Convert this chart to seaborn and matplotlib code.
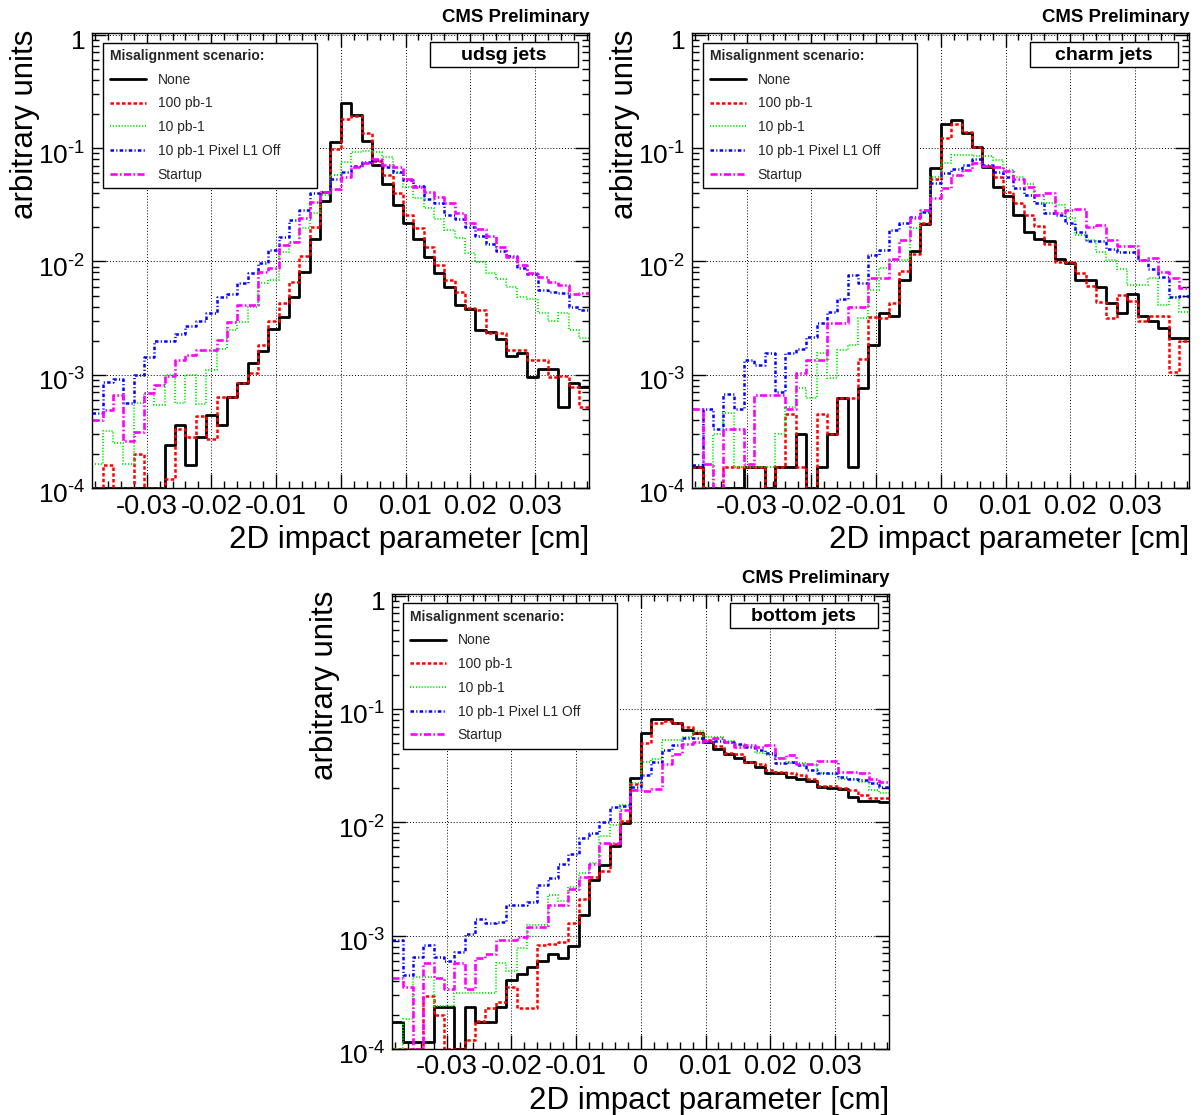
import numpy as np
import pandas as pd
import matplotlib
matplotlib.use("Agg")
import matplotlib.pyplot as plt
import matplotlib.transforms as mtransforms
import seaborn as sns
from matplotlib.ticker import FixedLocator, FixedFormatter, MultipleLocator, LogLocator, NullFormatter
from matplotlib.patches import Rectangle

# ---------------- data ----------------
BIN_EDGES = [round(k * 0.0016, 6) for k in range(-24, 25)]   # 48 bins, 0.0016 cm wide
BIN_CENTERS = [0.5 * (a + b) for a, b in zip(BIN_EDGES[:-1], BIN_EDGES[1:])]

SCENARIOS = ["None", "100 pb-1", "10 pb-1", "10 pb-1 Pixel L1 Off", "Startup"]
FLAVOURS = ["udsg jets", "charm jets", "bottom jets"]
X_TICKS = [-0.03, -0.02, -0.01, 0.0, 0.01, 0.02, 0.03]
X_TICK_LABELS = ["-0.03", "-0.02", "-0.01", "0", "0.01", "0.02", "0.03"]
Y_TICKS = [1e-4, 1e-3, 1e-2, 1e-1, 1.0]
Y_TICK_LABELS = [r"$10^{\text{-4}}$", r"$10^{\text{-3}}$", r"$10^{\text{-2}}$", r"$10^{\text{-1}}$", "1"]

# udsg jets
udsg_none = [0, 0, 0, 0, 0, 0, 0, 2.4e-4,
             3.6e-4, 1.6e-4, 2.8e-4, 4.4e-4, 3.6e-4, 6.4e-4, 8.5e-4, 1.26e-3,
             1.63e-3, 2.53e-3, 3.25e-3, 4.9e-3, 8.1e-3, 0.0159, 0.0343, 0.113,
             0.249, 0.196, 0.116, 0.0711, 0.0483, 0.0313, 0.0217, 0.0158,
             0.0110, 7.9e-3, 6.0e-3, 4.1e-3, 3.8e-3, 2.48e-3, 2.39e-3, 2.05e-3,
             1.46e-3, 1.56e-3, 9.6e-4, 1.13e-3, 1.13e-3, 5.2e-4, 8.4e-4, 7.8e-4]
udsg_100pb = [0, 1.6e-4, 0, 0, 2.0e-4, 0, 0, 1.2e-4,
              3.3e-4, 2.8e-4, 4.3e-4, 2.7e-4, 6.4e-4, 6.4e-4, 8.4e-4, 1.03e-3,
              1.83e-3, 3.0e-3, 4.3e-3, 6.6e-3, 0.0112, 0.020, 0.041, 0.098,
              0.18, 0.192, 0.137, 0.0776, 0.058, 0.040, 0.0255, 0.0196,
              0.0135, 9.4e-3, 6.9e-3, 5.4e-3, 3.85e-3, 3.72e-3, 2.34e-3, 2.32e-3,
              1.65e-3, 1.67e-3, 1.35e-3, 1.35e-3, 9.6e-4, 9.7e-4, 7.8e-4, 5.2e-4]
udsg_10pb = [1.64e-4, 3.2e-4, 2.5e-4, 1.64e-4, 5.6e-4, 6.9e-4, 5.4e-4, 1.0e-3,
             5.6e-4, 1.0e-3, 5.5e-4, 1.1e-3, 1.7e-3, 2.5e-3, 2.9e-3, 4.0e-3,
             6.4e-3, 6.9e-3, 0.0122, 0.0149, 0.0196, 0.0266, 0.0386, 0.058,
             0.076, 0.093, 0.095, 0.093, 0.083, 0.061, 0.0457, 0.036,
             0.0294, 0.0235, 0.0189, 0.016, 0.0118, 9.9e-3, 7.85e-3, 7.0e-3,
             6.0e-3, 4.9e-3, 4.7e-3, 3.5e-3, 3.0e-3, 3.5e-3, 2.5e-3, 2.1e-3]
udsg_10pb_nol1 = [4.6e-4, 8.6e-4, 9.1e-4, 5.6e-4, 1.0e-3, 1.44e-3, 1.98e-3, 1.98e-3,
                  2.3e-3, 2.7e-3, 3.0e-3, 3.5e-3, 4.9e-3, 5.2e-3, 6.5e-3, 7.85e-3,
                  9.6e-3, 0.0126, 0.0165, 0.0232, 0.0284, 0.040, 0.041, 0.054,
                  0.062, 0.0696, 0.076, 0.078, 0.068, 0.062, 0.0524, 0.0464,
                  0.0353, 0.033, 0.0257, 0.0235, 0.0203, 0.0168, 0.0143, 0.0124,
                  0.0112, 8.7e-3, 7.7e-3, 5.6e-3, 5.4e-3, 5.3e-3, 4.0e-3, 3.7e-3]
udsg_startup = [4.0e-4, 4.9e-4, 6.6e-4, 2.6e-4, 3.1e-4, 6.9e-4, 8.1e-4, 9.7e-4,
                1.35e-3, 1.49e-3, 1.67e-3, 1.67e-3, 2.02e-3, 2.93e-3, 4.1e-3, 4.1e-3,
                8.1e-3, 8.7e-3, 0.014, 0.0149, 0.024, 0.0337, 0.041, 0.044,
                0.0553, 0.068, 0.0745, 0.080, 0.0711, 0.068, 0.054, 0.0457,
                0.041, 0.0373, 0.033, 0.0266, 0.022, 0.0192, 0.0168, 0.0135,
                0.011, 9.3e-3, 7.85e-3, 7.3e-3, 6.6e-3, 6.2e-3, 5.2e-3, 5.3e-3]

# charm jets
charm_none = [1.54e-4, 0, 0, 0, 0, 1.54e-4, 1.54e-4, 0,
              1.54e-4, 1.54e-4, 3.0e-4, 0, 1.54e-4, 3.0e-4, 6.2e-4, 1.54e-4,
              7.6e-4, 1.83e-3, 3.5e-3, 3.3e-3, 6.9e-3, 0.0124, 0.0214, 0.0664,
              0.163, 0.177, 0.135, 0.103, 0.0687, 0.0457, 0.0381, 0.0257,
              0.0183, 0.0157, 0.0152, 0.0106, 9.6e-3, 6.9e-3, 6.8e-3, 6.0e-3,
              4.26e-3, 3.5e-3, 5.2e-3, 3.3e-3, 3.0e-3, 2.56e-3, 2.09e-3, 2.09e-3]
charm_100pb = [1.54e-4, 0, 0, 1.54e-4, 1.54e-4, 1.54e-4, 1.54e-4, 0,
               1.54e-4, 4.5e-4, 1.54e-4, 0, 4.5e-4, 3.0e-4, 6.2e-4, 6.2e-4,
               1.39e-3, 3.25e-3, 3.2e-3, 4.26e-3, 8.3e-3, 0.0116, 0.0217, 0.054,
               0.122, 0.164, 0.14, 0.102, 0.069, 0.056, 0.0413, 0.0326,
               0.0257, 0.0205, 0.0144, 9.95e-3, 9.95e-3, 7.85e-3, 6.07e-3, 4.4e-3,
               3.2e-3, 5.05e-3, 4.5e-3, 3.0e-3, 3.3e-3, 3.3e-3, 1.06e-3, 2.0e-3]
charm_10pb = [0, 0, 3.0e-4, 4.6e-4, 1.54e-4, 1.54e-4, 1.54e-4, 1.54e-4,
              3.0e-4, 5.2e-4, 7.6e-4, 6.2e-4, 1.54e-3, 9.3e-4, 1.67e-3, 1.83e-3,
              3.2e-3, 5.6e-3, 8.7e-3, 0.0103, 0.0103, 0.0196, 0.0275, 0.056,
              0.0735, 0.087, 0.087, 0.085, 0.085, 0.0787, 0.064, 0.056,
              0.0483, 0.0386, 0.033, 0.0315, 0.024, 0.0171, 0.0155, 0.0122,
              0.0103, 8.5e-3, 6.2e-3, 6.2e-3, 7.1e-3, 4.1e-3, 4.9e-3, 3.6e-3]
charm_10pb_nol1 = [1.6e-4, 5.0e-4, 3.35e-4, 6.8e-4, 5.0e-4, 1.35e-3, 1.22e-3, 1.54e-3,
                   7.1e-4, 1.54e-3, 1.7e-3, 2.16e-3, 2.84e-3, 3.6e-3, 4.7e-3, 7.6e-3,
                   6.4e-3, 0.0114, 0.0126, 0.0189, 0.022, 0.0249, 0.0275, 0.049,
                   0.06, 0.065, 0.071, 0.081, 0.071, 0.062, 0.056, 0.0442,
                   0.0386, 0.0326, 0.0266, 0.0257, 0.022, 0.0183, 0.0152, 0.0152,
                   0.013, 0.0122, 0.012, 0.0103, 8.5e-3, 7.3e-3, 4.9e-3, 5.0e-3]
charm_startup = [5.0e-4, 1.64e-4, 0, 3.35e-4, 3.35e-4, 1.64e-4, 6.6e-4, 6.6e-4,
                 6.6e-4, 5.0e-4, 1.03e-3, 1.35e-3, 1.35e-3, 2.84e-3, 2.84e-3, 4.0e-3,
                 4.0e-3, 7.1e-3, 7.1e-3, 0.0106, 0.0155, 0.024, 0.0284, 0.036,
                 0.0442, 0.058, 0.064, 0.0735, 0.069, 0.068, 0.063, 0.054,
                 0.0457, 0.0386, 0.0405, 0.0266, 0.0284, 0.029, 0.0203, 0.021,
                 0.0155, 0.0137, 0.0137, 0.0103, 0.0108, 8.1e-3, 7.1e-3, 5.8e-3]

# bottom jets
bottom_none = [1.73e-4, 1.15e-4, 1.15e-4, 1.15e-4, 2.35e-4, 2.35e-4, 0, 2.35e-4,
               1.73e-4, 1.73e-4, 2.35e-4, 4.04e-4, 4.6e-4, 5.3e-4, 5.9e-4, 6.9e-4,
               6.3e-4, 8.1e-4, 1.51e-3, 3.08e-3, 4.2e-3, 6.2e-3, 9.8e-3, 0.0244,
               0.0618, 0.081, 0.081, 0.0746, 0.0653, 0.0618, 0.0514, 0.044,
               0.040, 0.0366, 0.0343, 0.031, 0.0274, 0.027, 0.0253, 0.0239,
               0.023, 0.0203, 0.020, 0.0195, 0.0166, 0.0155, 0.0155, 0.0152]
bottom_100pb = [0, 0, 0, 2.9e-4, 2.0e-4, 0, 0, 1.2e-4,
                1.75e-4, 2.3e-4, 2.6e-4, 3.5e-4, 2.3e-4, 2.3e-4, 8.3e-4, 8.5e-4,
                8.7e-4, 1.28e-3, 2.1e-3, 3.3e-3, 3.7e-3, 6.4e-3, 0.0103, 0.0216,
                0.05, 0.075, 0.079, 0.0746, 0.0689, 0.061, 0.053, 0.047,
                0.0405, 0.040, 0.0343, 0.033, 0.0289, 0.028, 0.027, 0.026,
                0.0239, 0.0209, 0.0209, 0.020, 0.0193, 0.0175, 0.0163, 0.0163]
bottom_10pb = [0, 1.85e-4, 4.3e-4, 4.3e-4, 2.4e-4, 2.4e-4, 3.1e-4, 3.1e-4,
               3.1e-4, 3.1e-4, 5.7e-4, 4.9e-4, 7.7e-4, 1.24e-3, 1.24e-3, 2.28e-3,
               2.0e-3, 2.7e-3, 3.6e-3, 4.4e-3, 7.5e-3, 9.5e-3, 0.0142, 0.022,
               0.034, 0.036, 0.053, 0.053, 0.057, 0.064, 0.057, 0.057,
               0.052, 0.048, 0.0464, 0.0411, 0.0393, 0.0366, 0.0331, 0.0331,
               0.032, 0.0274, 0.0268, 0.0239, 0.0239, 0.0228, 0.0192, 0.0182]
bottom_10pb_nol1 = [9.1e-4, 4.5e-4, 6.5e-4, 8.2e-4, 6.5e-4, 5.9e-4, 7.2e-4, 1.04e-3,
                    1.39e-3, 1.28e-3, 1.32e-3, 1.86e-3, 1.86e-3, 1.99e-3, 2.79e-3, 3.19e-3,
                    4.3e-3, 5.2e-3, 7.2e-3, 8.0e-3, 0.0101, 0.0137, 0.014, 0.0206,
                    0.026, 0.0343, 0.0435, 0.048, 0.055, 0.055, 0.0514, 0.052,
                    0.0514, 0.049, 0.0464, 0.0435, 0.0405, 0.0336, 0.0343, 0.032,
                    0.0289, 0.0274, 0.027, 0.0253, 0.0239, 0.0236, 0.022, 0.0203]
bottom_startup = [4.2e-4, 3.5e-4, 0, 5.7e-4, 4.2e-4, 3.4e-4, 5.7e-4, 3.4e-4,
                  6.3e-4, 6.9e-4, 9.1e-4, 9.1e-4, 9.7e-4, 1.19e-3, 1.19e-3, 1.86e-3,
                  1.86e-3, 2.6e-3, 3.3e-3, 4.3e-3, 6.5e-3, 6.5e-3, 0.0128, 0.0192,
                  0.019, 0.0195, 0.033, 0.040, 0.049, 0.0514, 0.052, 0.055,
                  0.0514, 0.046, 0.048, 0.0464, 0.048, 0.037, 0.039, 0.033,
                  0.033, 0.035, 0.035, 0.028, 0.028, 0.0274, 0.024, 0.0225]

PANEL_DATA = [
    [udsg_none, udsg_100pb, udsg_10pb, udsg_10pb_nol1, udsg_startup],
    [charm_none, charm_100pb, charm_10pb, charm_10pb_nol1, charm_startup],
    [bottom_none, bottom_100pb, bottom_10pb, bottom_10pb_nol1, bottom_startup],
]

# ---------------- style ----------------
COLORS = ["#000000", "#ff0000", "#00ee00", "#0000ff", "#ff00ff"]
STYLES = ["-", (0, (1.4, 0.9)), (0, (0.5, 0.9)), (0, (1.4, 0.9, 0.45, 0.9)), (0, (2.7, 0.9, 0.6, 0.9))]
WIDTHS = [2.0, 1.8, 1.5, 1.8, 1.9]
YMIN, YMAX = 1e-4, 1.04
XMIN, XMAX = -0.0384, 0.0384

sns.set_theme(style="white")
plt.rcParams['font.family'] = ['Liberation Sans', 'DejaVu Sans']
plt.rcParams['mathtext.fontset'] = 'custom'
plt.rcParams['mathtext.rm'] = 'Liberation Sans'
plt.rcParams['mathtext.it'] = 'Liberation Sans:italic'
plt.rcParams['mathtext.bf'] = 'Liberation Sans:bold'
plt.rcParams['axes.unicode_minus'] = False

W, H = 1202, 1115
fig = plt.figure(figsize=(W / 100, H / 100), dpi=100)
fig.patch.set_facecolor("white")

PANEL_POS_PX = [(92.3, 33.0), (692.3, 33.0), (392.3, 593.8)]
AX_W, AX_H = 497.0, 455.0
YLABEL_SHIFT = mtransforms.ScaledTranslation(0, -0.05, fig.dpi_scale_trans)


def draw_panel(ax, flavour, series):
    ax.set_yscale("log")
    handles = []
    for name, vals, color, ls, lw in zip(SCENARIOS, series, COLORS, STYLES, WIDTHS):
        df = pd.DataFrame({"ip": BIN_CENTERS,
                           "w": np.clip(np.asarray(vals, dtype=float), YMIN, None)})
        sns.histplot(data=df, x="ip", weights="w", bins=BIN_EDGES, element="step",
                     fill=False, color=color, linewidth=lw, linestyle=ls, ax=ax)
        line = ax.lines[-1]
        line.set_label(name)
        handles.append(line)

    ax.set_xlim(XMIN, XMAX)
    ax.set_ylim(YMIN, YMAX)
    ax.set_facecolor("white")

    ax.xaxis.set_major_locator(FixedLocator(X_TICKS))
    ax.xaxis.set_major_formatter(FixedFormatter(X_TICK_LABELS))
    ax.xaxis.set_minor_locator(MultipleLocator(0.002))
    ax.yaxis.set_major_locator(FixedLocator(Y_TICKS))
    ax.yaxis.set_major_formatter(FixedFormatter(Y_TICK_LABELS))
    ax.yaxis.set_minor_locator(LogLocator(base=10, subs=np.arange(2, 10) * 1.0, numticks=20))
    ax.yaxis.set_minor_formatter(NullFormatter())

    ax.tick_params(which="both", direction="in", bottom=True, top=True, left=True, right=True,
                   color="black", width=1.0, labelsize=19.5, labelcolor="black")
    ax.tick_params(axis="y", which="major", labelsize=19)
    ax.tick_params(which="major", length=10)
    ax.tick_params(which="minor", length=5)
    ax.tick_params(axis="x", which="major", pad=4)
    ax.tick_params(axis="y", which="major", pad=5)
    for tick in ax.yaxis.get_major_ticks(len(Y_TICKS)):
        tick.label1.set_transform(tick.label1.get_transform() + YLABEL_SHIFT)

    ax.grid(True, which="major", axis="both", color="black", linestyle=(0, (1, 2)), linewidth=0.7)
    ax.set_axisbelow(True)
    for sp in ax.spines.values():
        sp.set_color("black")
        sp.set_linewidth(1.0)
        sp.set_visible(True)

    ax.set_xlabel("2D impact parameter [cm]", fontsize=22.5, loc="right", color="black")
    ax.xaxis.set_label_coords(1.0, -0.081)
    ax.set_ylabel("arbitrary units", fontsize=22.5, loc="top", color="black")
    ax.yaxis.set_label_coords(-0.106, 1.0066)

    ax.text(1.0, 1.024, "CMS Preliminary", transform=ax.transAxes, ha="right",
            va="baseline", fontsize=13.4, fontweight="bold", color="black")

    ax.add_patch(Rectangle((0.6795, 0.925), 0.2975, 0.055, transform=ax.transAxes,
                           facecolor="white", edgecolor="black", linewidth=1.0, zorder=5))
    ax.text(0.828, 0.9396, flavour, transform=ax.transAxes, ha="center", va="baseline",
            fontsize=14, fontweight="bold", color="black", zorder=6)

    leg = ax.legend(handles=handles, labels=SCENARIOS, title="Misalignment scenario:",
                    loc="upper left", bbox_to_anchor=(0.0221, 0.6, 0.4294, 0.3787),
                    mode="expand", borderaxespad=0.0, fontsize=10,
                    title_fontproperties={"weight": "bold", "size": 10},
                    alignment="left", frameon=True, fancybox=False, shadow=False,
                    framealpha=1.0, edgecolor="black", borderpad=0.45,
                    labelspacing=0.7, handlelength=2.66, handletextpad=0.8)
    leg.get_frame().set_linewidth(1.0)
    leg.set_zorder(10)


for (px, py), flavour, series in zip(PANEL_POS_PX, FLAVOURS, PANEL_DATA):
    ax = fig.add_axes([px / W, 1 - (py + AX_H) / H, AX_W / W, AX_H / H])
    draw_panel(ax, flavour, series)

fig.savefig("out.png", dpi=100, facecolor="white")
